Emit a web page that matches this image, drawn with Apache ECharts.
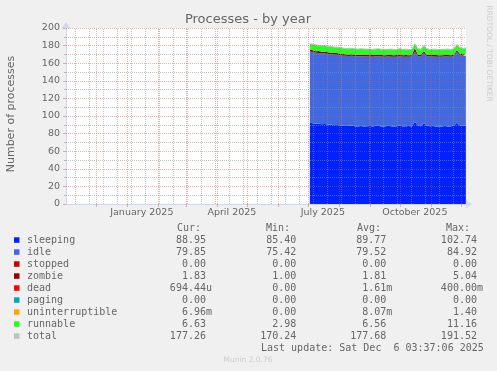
<!DOCTYPE html>
<html><head><meta charset="utf-8">
<script src="https://cdn.jsdelivr.net/npm/echarts@6/dist/echarts.min.js"></script>
<style>html,body{margin:0;padding:0;background:#f0f0f0}#c{width:497px;height:371px}</style>
</head><body><div id="c"></div>
<script>
// ---- data (one sample every 3 days, starting 2025-07-03) ----
const firstSample = [2025, 6, 3];
const sampleStepDays = 3;
const sleeping = [92.6, 91.8, 91.2, 91.5, 90.6, 91.0, 90.2, 90.4, 89.6, 89.9, 89.2, 89.0, 88.6, 88.8, 89.1, 88.3, 88.2, 88.7, 88.1, 88.4, 88.6, 88.0, 88.9, 88.5, 88.2, 88.1, 88.8, 88.4, 88.0, 88.3, 89.2, 88.1, 88.4, 88.6, 88.2, 93.5, 88.9, 88.4, 91.8, 89.0, 88.3, 88.6, 88.1, 88.2, 88.0, 88.5, 88.1, 88.3, 88.6, 92.4, 89.2, 88.8, 88.95];
const idle = [80.8, 80.9, 80.6, 80.2, 80.5, 80.0, 80.3, 79.9, 80.1, 79.8, 79.9, 79.6, 79.8, 79.5, 79.4, 79.7, 79.6, 79.2, 79.5, 79.3, 79.0, 79.4, 78.9, 79.2, 79.4, 79.1, 78.8, 79.0, 79.3, 79.1, 78.7, 79.2, 79.0, 78.8, 79.3, 79.5, 78.9, 79.1, 79.6, 79.0, 79.2, 78.9, 79.3, 79.0, 79.2, 79.1, 79.4, 79.0, 79.3, 80.2, 79.8, 79.6, 79.85];
const zombie = [2.2, 2.0, 1.9, 2.1, 1.8, 2.0, 1.9, 1.7, 1.8, 2.0, 1.7, 1.8, 1.9, 1.6, 1.8, 1.7, 1.9, 1.8, 1.7, 1.8, 1.6, 1.9, 1.8, 1.7, 1.8, 1.9, 1.7, 1.8, 1.6, 1.8, 1.9, 1.7, 1.8, 1.7, 1.8, 4.2, 1.9, 1.8, 2.4, 1.7, 1.8, 1.7, 1.9, 1.8, 1.7, 1.8, 1.9, 1.7, 1.8, 2.3, 1.8, 1.9, 1.83];
const runnable = [6.5, 6.8, 7.2, 6.4, 6.9, 7.1, 6.6, 7.0, 6.8, 6.5, 7.2, 6.7, 6.4, 6.9, 6.6, 6.8, 6.3, 6.7, 6.9, 6.5, 6.8, 6.4, 6.6, 6.9, 6.3, 6.7, 6.5, 6.8, 6.6, 6.4, 6.9, 6.5, 6.7, 6.6, 6.4, 4.8, 7.0, 6.5, 6.2, 6.8, 6.4, 6.7, 6.5, 6.6, 6.9, 6.4, 6.7, 6.5, 6.8, 5.9, 7.0, 6.6, 6.63];
const total = [182.1, 181.5, 180.9, 180.2, 179.8, 180.1, 179.0, 179.0, 178.3, 178.2, 178.0, 177.1, 176.7, 176.8, 176.9, 176.5, 176.0, 176.4, 176.2, 176.0, 176.0, 175.7, 176.2, 176.3, 175.7, 175.8, 175.8, 176.0, 175.5, 175.6, 176.7, 175.5, 175.9, 175.7, 175.7, 182.0, 176.7, 175.8, 180.0, 176.5, 175.7, 175.9, 175.8, 175.6, 175.8, 175.8, 176.1, 175.5, 176.5, 180.8, 177.8, 176.9, 177.26];

const yTicks = [0, 20, 40, 60, 80, 100, 120, 140, 160, 180, 200];
const yMinorTicks = [10, 30, 50, 70, 90, 110, 130, 150, 170, 190];
const monthStarts = ['2024-12-01','2025-01-01','2025-02-01','2025-03-01','2025-04-01','2025-05-01','2025-06-01','2025-07-01','2025-08-01','2025-09-01','2025-10-01','2025-11-01','2025-12-01'];
const minorDays = ['2024-11-10','2024-11-24','2024-12-08','2024-12-22','2025-01-05','2025-01-19','2025-02-02','2025-02-16','2025-03-02','2025-03-16','2025-03-30','2025-04-13','2025-04-27','2025-05-11','2025-05-25','2025-06-08','2025-06-22','2025-07-06','2025-07-20','2025-08-03','2025-08-17','2025-08-31','2025-09-14','2025-09-28','2025-10-12','2025-10-26','2025-11-09','2025-11-23'];
const xLabelDates = ['2025-01-16','2025-04-16','2025-07-16','2025-10-16'];
const xLabelTexts = ['January 2025','April 2025','July 2025','October 2025'];

const legendNames = ['sleeping','idle','stopped','zombie','dead','paging','uninterruptible','runnable','total'];
const curVals = ['88.95 ','79.85 ','0.00 ','1.83 ','694.44u','0.00 ','6.96m','6.63 ','177.26 '];
const minVals = ['85.40 ','75.42 ','0.00 ','1.00 ','0.00 ','0.00 ','0.00 ','2.98 ','170.24 '];
const avgVals = ['89.77 ','79.52 ','0.00 ','1.81 ','1.61m','0.00 ','8.07m','6.56 ','177.68 '];
const maxVals = ['102.74 ','84.92 ','0.00 ','5.04 ','400.00m','0.00 ','1.40 ','11.16 ','191.52 '];
const lastUpdate = 'Last update: Sat Dec  6 03:37:06 2025';

// ---- styles ----
const colors = {sleeping:'#0022ff', idle:'#4169e1', stopped:'#cc0000', zombie:'#990000', dead:'#ff0000', paging:'#00aaaa', uninterruptible:'#ffa500', runnable:'#22ff22', total:'#c0c0c0'};
const FONT = '#666666';
const MGRID = 'rgba(222,79,79,0.45)';
const GRID = 'rgba(143,143,143,0.55)';
const AXIS = '#CFD6F8';

const localDay = s => { const p = s.split('-').map(Number); return new Date(p[0], p[1]-1, p[2]).getTime(); };
const dates = sleeping.map((_, i) => new Date(firstSample[0], firstSample[1], firstSample[2] + i * sampleStepDays).getTime());
const xMin = new Date(2024, 10, 1, 3, 37, 6).getTime();
const xMax = new Date(2025, 11, 6, 3, 37, 6).getTime();
const labelTimes = xLabelDates.map(localDay);

function area(name, vals) {
  return {name, type:'line', stack:'p', xAxisIndex:0, data: vals.map((v, i) => [dates[i], v]),
    symbol:'none', showSymbol:false, lineStyle:{width:0}, areaStyle:{color:colors[name], opacity:1},
    itemStyle:{color:colors[name]}, animation:false, z:2, silent:true};
}

const dashed = [1, 1];
const gridMarks = []
  .concat(minorDays.map(s => ({xAxis: localDay(s), lineStyle:{color:GRID, type:dashed, width:1}})))
  .concat(yMinorTicks.map(v => ({yAxis: v, lineStyle:{color:GRID, type:dashed, width:1}})))
  .concat(monthStarts.map(s => ({xAxis: localDay(s), lineStyle:{color:MGRID, type:dashed, width:1}})))
  .concat(yTicks.filter(v => v > 0).map(v => ({yAxis: v, lineStyle:{color:MGRID, type:dashed, width:1}})));

const graphics = [];
const monoFont = '10px "DejaVu Sans Mono"';
function txt(text, x, y, align, font, fill, extra) {
  graphics.push(Object.assign({type:'text', x, y, silent:true,
    style:{text, font, fill, align, textAlign:align, verticalAlign:'middle', textVerticalAlign:'middle'}}, extra || {}));
}
txt('Processes - by year', 248, 19.5, 'center', '13px "DejaVu Sans"', FONT);
txt('Number of processes', 11, 114, 'center', '11px "DejaVu Sans"', FONT, {rotation: Math.PI/2});
txt('RRDTOOL / TOBI OETIKER', 488.5, 53.5, 'center', '7.5px "DejaVu Sans"', '#cccccc', {rotation: -Math.PI/2});
txt('Cur:', 177, 228, 'left', monoFont, FONT);
txt('Min:', 266, 228, 'left', monoFont, FONT);
txt('Avg:', 357, 228, 'left', monoFont, FONT);
txt('Max:', 446, 228, 'left', monoFont, FONT);
legendNames.forEach((n, i) => {
  const y = 240 + i * 12;
  graphics.push({type:'rect', silent:true, shape:{x:14, y:y-2.7, width:5.5, height:5.5}, style:{fill:colors[n]}});
  txt(n, 27, y, 'left', monoFont, FONT);
  txt(curVals[i], 212, y, 'right', monoFont, FONT);
  txt(minVals[i], 302.3, y, 'right', monoFont, FONT);
  txt(avgVals[i], 392.3, y, 'right', monoFont, FONT);
  txt(maxVals[i], 483, y, 'right', monoFont, FONT);
});
txt(lastUpdate, 261, 348, 'left', monoFont, FONT);
txt('Munin 2.0.76', 248, 360, 'center', '7.5px "DejaVu Sans"', '#cccccc');

const chart = echarts.init(document.getElementById('c'), null, {renderer:'canvas'});
chart.setOption({
  backgroundColor:'#f0f0f0',
  animation:false,
  grid:{left:66, right:31, top:28, bottom:167, show:true, backgroundColor:'#ffffff', borderWidth:0, containLabel:false},
  xAxis:[
    {type:'time', position:'bottom', min:xMin, max:xMax,
      axisLine:{show:true, lineStyle:{color:AXIS, width:1}, symbol:['none','arrow'], symbolSize:[7,7], symbolOffset:[0,6]},
      axisTick:{show:false}, axisLabel:{show:false}, splitLine:{show:false}},
    {type:'value', position:'bottom', min:xMin, max:xMax,
      axisLine:{show:false},
      axisTick:{show:true, customValues: monthStarts.map(localDay), length:3, lineStyle:{color:MGRID}},
      axisLabel:{customValues: labelTimes, formatter: v => { const k = labelTimes.indexOf(v); return k >= 0 ? xLabelTexts[k] : ''; },
        color:FONT, fontFamily:'DejaVu Sans', fontSize:9.5, margin:4, hideOverlap:false},
      splitLine:{show:false}}
  ],
  yAxis:{type:'value', min:yTicks[0], max:yTicks[yTicks.length-1], interval:20,
    axisLine:{show:true, lineStyle:{color:AXIS, width:1}, symbol:['none','arrow'], symbolSize:[7,7], symbolOffset:[0,6]},
    axisTick:{show:true, length:3, lineStyle:{color:MGRID}},
    minorTick:{show:true, splitNumber:2, length:2, lineStyle:{color:GRID}},
    axisLabel:{color:FONT, fontFamily:'DejaVu Sans', fontSize:9.5, margin:6},
    splitLine:{show:false}},
  series:[
    area('sleeping', sleeping),
    area('idle', idle),
    area('zombie', zombie),
    area('runnable', runnable),
    {name:'total', type:'line', xAxisIndex:0, data: total.map((v, i) => [dates[i], v]), symbol:'none', showSymbol:false,
      lineStyle:{color:colors.total, width:1}, itemStyle:{color:colors.total}, z:3, silent:true,
      markLine:{silent:true, symbol:['none','none'], label:{show:false}, animation:false, data: gridMarks}}
  ],
  graphic: graphics
});
</script></body></html>
